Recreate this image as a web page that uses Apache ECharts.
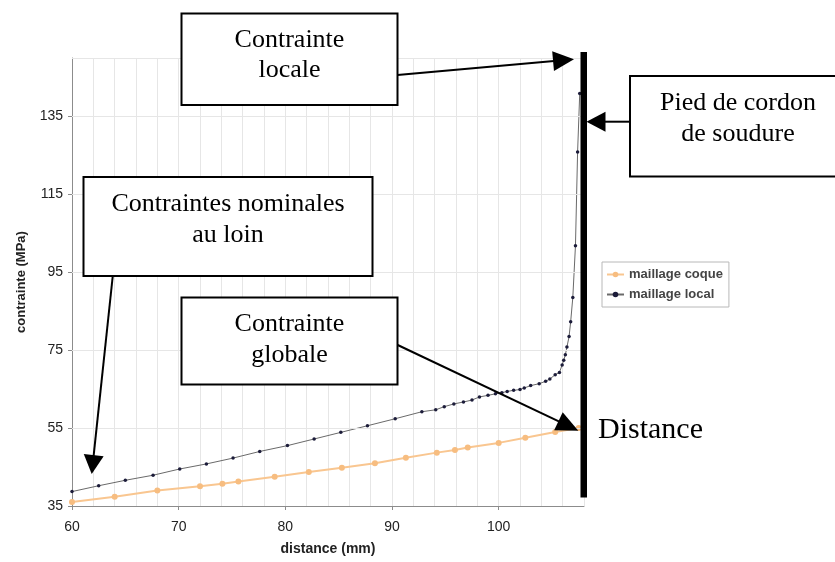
<!DOCTYPE html>
<html><head><meta charset="utf-8">
<script src="https://cdn.jsdelivr.net/npm/echarts@6/dist/echarts.min.js"></script>
<style>html,body{margin:0;padding:0;background:#fff}#c{width:835px;height:562px}</style>
</head><body><div id="c"></div>
<script>
const seriesNames = ['maillage coque', 'maillage local'];
const xTickLabels = [60, 70, 80, 90, 100];
const yTickLabels = [35, 55, 75, 95, 115, 135];
const xMin = 60, xMax = 108, yMin = 35, yMax = 150;

const coqueX = [60, 64, 68, 72, 74.1, 75.6, 79, 82.2, 85.3, 88.4, 91.3, 94.2, 95.9, 97.1, 100, 102.5, 105.3, 107.5];
const coqueY = [36.0, 37.4, 39.0, 40.1, 40.7, 41.3, 42.5, 43.7, 44.8, 46.0, 47.4, 48.7, 49.4, 50.0, 51.2, 52.5, 54.0, 55.0];

const localX = [60.0, 62.5, 65.0, 67.6, 70.1, 72.6, 75.1, 77.6, 80.2, 82.7, 85.2, 87.7, 90.3, 92.8,
  94.1, 94.9, 95.8, 96.7, 97.5, 98.2, 99.0, 99.7, 100.3, 100.8, 101.4, 102.0, 102.4, 103.0, 103.8,
  104.4, 104.8, 105.3, 105.7, 105.95, 106.1, 106.25, 106.4, 106.6, 106.75, 106.95, 107.2, 107.4, 107.6];
const localY = [38.7, 40.2, 41.6, 42.9, 44.5, 45.8, 47.3, 49.0, 50.5, 52.2, 53.9, 55.6, 57.4, 59.2,
  59.7, 60.5, 61.2, 61.7, 62.2, 63.0, 63.4, 63.8, 64.1, 64.4, 64.7, 64.9, 65.3, 65.9, 66.4,
  67.0, 67.6, 68.7, 69.3, 71.2, 72.4, 73.8, 75.8, 78.5, 82.3, 88.5, 101.8, 125.9, 140.9];

const gridLinesY = yTickLabels.slice(1).concat([yMax]);

const zip = (xs, ys) => xs.map((x, i) => [x, ys[i]]);
const SANS = '"Liberation Sans", Arial, sans-serif';
const SERIF = '"Liberation Serif", "Times New Roman", serif';

function arrow(x1, y1, x2, y2, len, wid) {
  const dx = x2 - x1, dy = y2 - y1, d = Math.hypot(dx, dy), ux = dx / d, uy = dy / d;
  const bx = x2 - ux * len, by = y2 - uy * len, px = -uy * wid / 2, py = ux * wid / 2;
  return [
    {type: 'line', z: 100, shape: {x1: x1, y1: y1, x2: bx + ux, y2: by + uy}, style: {stroke: '#000', lineWidth: 2}},
    {type: 'polygon', z: 100, shape: {points: [[x2, y2], [bx + px, by + py], [bx - px, by - py]]}, style: {fill: '#000'}}
  ];
}
function box(x, y, w, h, text, cx, cy) {
  return [
    {type: 'rect', z: 100, shape: {x: x, y: y, width: w, height: h}, style: {fill: '#fff', stroke: '#000', lineWidth: 2}},
    {type: 'text', z: 101, x: cx, y: cy, style: {text: text, fill: '#000', font: '26px ' + SERIF,
      align: 'center', verticalAlign: 'middle', textAlign: 'center', textVerticalAlign: 'middle', lineHeight: 30.5}}
  ];
}

const graphics = [].concat(
  [{type: 'rect', z: 100, shape: {x: 580.5, y: 52, width: 6.5, height: 445.5}, style: {fill: '#000'}}],
  box(181.5, 13.5, 216, 91.5, 'Contrainte\nlocale', 289.5, 55),
  arrow(397.5, 75, 574, 59.3, 21, 20),
  box(630, 76, 210, 100.5, 'Pied de cordon\nde soudure', 738, 118.7),
  arrow(630, 121.7, 586.5, 121.7, 19, 20),
  box(83.5, 177, 289, 99, 'Contraintes nominales\nau loin', 228, 219.7),
  arrow(112.7, 276.5, 91.7, 474, 19, 20),
  box(181.5, 297.5, 216, 87, 'Contrainte\nglobale', 289.5, 339.7),
  arrow(397.7, 345, 578.3, 430.7, 22, 20),
  [{type: 'text', z: 101, x: 598, y: 430, style: {text: 'Distance', fill: '#000', font: '30px ' + SERIF,
    align: 'left', verticalAlign: 'middle', textAlign: 'left', textVerticalAlign: 'middle'}}]
);

const chart = echarts.init(document.getElementById('c'), null, {renderer: 'canvas'});
const option = {
  animation: false,
  backgroundColor: '#fff',
  grid: {left: 72, right: 251, top: 58, bottom: 56, containLabel: false, outerBoundsMode: 'none'},
  legend: {
    data: seriesNames, orient: 'vertical', left: 602, top: 262,
    padding: [6, 6, 6, 4], itemGap: 7, itemWidth: 17, itemHeight: 7,
    borderColor: '#b8b8b8', borderWidth: 1, backgroundColor: '#fff',
    textStyle: {fontFamily: SANS, fontWeight: 'bold', fontSize: 13, color: '#444'}
  },
  xAxis: [
    {type: 'value', min: xMin, max: xMax, interval: 10, position: 'bottom',
      name: 'distance (mm)', nameLocation: 'middle', nameGap: 36,
      nameTextStyle: {fontFamily: SANS, fontWeight: 'bold', fontSize: 14, color: '#222'},
      axisLine: {show: true, lineStyle: {color: '#8c8c8c', width: 1}},
      axisTick: {show: true, length: 4, lineStyle: {color: '#8c8c8c'}},
      axisLabel: {showMaxLabel: false, fontFamily: SANS, fontSize: 14, color: '#222', margin: 14,
        formatter: v => xTickLabels.includes(v) ? String(v) : ''},
      splitLine: {show: false}},
    {type: 'value', min: xMin, max: xMax, interval: 2, position: 'bottom',
      axisLine: {show: false}, axisTick: {show: false}, axisLabel: {show: false},
      splitLine: {show: true, lineStyle: {color: '#e6e6e6', width: 1}}}
  ],
  yAxis: [
    {type: 'value', min: yMin, max: yMax, interval: 5,
      name: 'contrainte (MPa)', nameLocation: 'middle', nameGap: 44, nameRotate: 90,
      nameTextStyle: {fontFamily: SANS, fontWeight: 'bold', fontSize: 13, color: '#222'},
      axisLine: {show: true, lineStyle: {color: '#8c8c8c', width: 1}},
      axisTick: {show: false},
      axisLabel: {fontFamily: SANS, fontSize: 14, color: '#222', margin: 9,
        formatter: v => yTickLabels.includes(v) ? String(v) : ''},
      splitLine: {show: false}}
  ],
  series: [
    {type: 'line', name: 'grid', data: [], z: 1, silent: true,
      markLine: {silent: true, symbol: ['none', 'none'], animation: false, label: {show: false},
        lineStyle: {color: '#e6e6e6', width: 1, type: 'solid'},
        emphasis: {disabled: true},
        data: gridLinesY.map(v => ({yAxis: v}))}},
    {type: 'line', name: seriesNames[0], data: zip(coqueX, coqueY), z: 3,
      symbol: 'circle', symbolSize: 6, showAllSymbol: true,
      lineStyle: {color: '#f9c690', width: 2}, itemStyle: {color: '#f7bd80'}},
    {type: 'line', name: seriesNames[1], data: zip(localX, localY), z: 4,
      symbol: 'circle', symbolSize: 3.5, showAllSymbol: true,
      lineStyle: {color: '#6a6a6a', width: 1}, itemStyle: {color: '#1c1c3a'}}
  ],
  graphic: {elements: graphics}
};
chart.setOption(option);

// y-axis tick marks at the labelled values, placed through the axis scale
const tickMarks = yTickLabels.map(v => {
  const p = chart.convertToPixel({xAxisIndex: 0, yAxisIndex: 0}, [xMin, v]);
  return {type: 'line', z: 50, shape: {x1: p[0] - 4, y1: Math.round(p[1]) + 0.5, x2: p[0], y2: Math.round(p[1]) + 0.5},
    style: {stroke: '#8c8c8c', lineWidth: 1}};
});
chart.setOption({graphic: {elements: graphics.concat(tickMarks)}});
</script></body></html>
